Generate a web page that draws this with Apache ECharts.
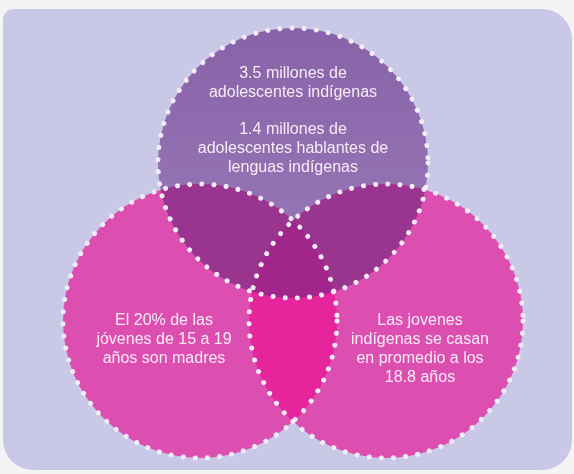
<!DOCTYPE html>
<html><head><meta charset="utf-8">
<script src="https://cdn.jsdelivr.net/npm/echarts@6/dist/echarts.min.js"></script>
<style>html,body{margin:0;padding:0;background:#f4f4f7;}#c{width:574px;height:474px;}</style>
</head><body><div id="c"></div>
<script>
// ---- data ----
const circleNames = ['Adolescentes indígenas', 'Madres jóvenes', 'Edad al casarse'];
const circleX = [293, 200, 386];
const circleY = [163, 321, 321];
const circleR = [135, 137, 137];
const overlapSets = [[0, 1], [0, 2], [1, 2], [0, 1, 2]];
const labelX = [293, 293, 164, 420];
const labelY = [83, 149, 340, 349];
const labelText = [
  '3.5 millones de\nadolescentes indígenas',
  '1.4 millones de\nadolescentes hablantes de\nlenguas indígenas',
  'El 20% de las\njóvenes de 15 a 19\naños son madres',
  'Las jovenes\nindígenas se casan\nen promedio a los\n18.8 años'
];

// ---- styles ----
const circleFill = [
  {type:'linear',x:0,y:0,x2:0,y2:1,colorStops:[{offset:0,color:'#8862a8'},{offset:1,color:'#9a7cb9'}]},
  '#dc4fb1', '#dc4fb1'
];
const overlapFill = ['#99348f', '#99348f', '#e6249b', '#a0268c'];

const chart = echarts.init(document.getElementById('c'));

function pixCircle(api, i) {
  const c = api.coord([circleX[i], circleY[i]]);
  const r = Math.abs(api.size([circleR[i], 0])[0]);
  return {cx: c[0], cy: c[1], r: r};
}
function intersectPoly(cs) {
  const pts = [];
  const N = 1440;
  cs.forEach((c, i) => {
    for (let k = 0; k < N; k++) {
      const a = k / N * Math.PI * 2;
      const x = c.cx + c.r * Math.cos(a), y = c.cy + c.r * Math.sin(a);
      let ok = true;
      cs.forEach((o, j) => {
        if (j !== i && Math.hypot(x - o.cx, y - o.cy) > o.r + 0.01) ok = false;
      });
      if (ok) pts.push([x, y]);
    }
  });
  let mx = 0, my = 0;
  pts.forEach(p => { mx += p[0]; my += p[1]; });
  mx /= pts.length; my /= pts.length;
  pts.sort((p, q) => Math.atan2(p[1] - my, p[0] - mx) - Math.atan2(q[1] - my, q[0] - mx));
  return pts;
}

const option = {
  animation: false,
  graphic: [{
    type: 'rect', z: -10,
    shape: {x: 3, y: 9, width: 569, height: 461, r: [10, 30, 30, 30]},
    style: {fill: '#c9c8e6'}
  }],
  grid: {left: 0, right: 0, top: 0, bottom: 0},
  xAxis: {type: 'value', min: 0, max: 574, show: false},
  yAxis: {type: 'value', min: 0, max: 474, inverse: true, show: false},
  series: [
    {
      type: 'custom', name: 'circles',
      data: circleNames.map((n, i) => ({name: n, value: [circleX[i], circleY[i], circleR[i]]})),
      renderItem: function (params, api) {
        const c = pixCircle(api, params.dataIndex);
        return {type: 'circle', shape: {cx: c.cx, cy: c.cy, r: c.r}, style: {fill: circleFill[params.dataIndex]}};
      },
      z: 1
    },
    {
      type: 'custom', name: 'overlaps',
      data: overlapSets.map((s, i) => [i]),
      renderItem: function (params, api) {
        const set = overlapSets[params.dataIndex];
        const cs = set.map(i => pixCircle(api, i));
        return {type: 'polygon', shape: {points: intersectPoly(cs)}, style: {fill: overlapFill[params.dataIndex]}};
      },
      z: 2
    },
    {
      type: 'custom', name: 'borders',
      data: circleNames.map((n, i) => [circleX[i], circleY[i], circleR[i]]),
      renderItem: function (params, api) {
        const c = pixCircle(api, params.dataIndex);
        return {type: 'circle', shape: {cx: c.cx, cy: c.cy, r: c.r},
          style: {fill: 'none', stroke: '#f1ecf8', lineWidth: 5, lineDash: [0.01, 12.2], lineCap: 'round'}};
      },
      z: 3
    },
    {
      type: 'custom', name: 'labels',
      data: labelText.map((t, i) => [labelX[i], labelY[i]]),
      renderItem: function (params, api) {
        const p = api.coord([api.value(0), api.value(1)]);
        return {type: 'text', x: p[0], y: p[1],
          style: {text: labelText[params.dataIndex], fill: '#f7ecf6', font: '16px "Liberation Sans", Arial, sans-serif',
            align: 'center', verticalAlign: 'middle', lineHeight: 19}};
      },
      z: 4
    }
  ]
};
chart.setOption(option);
</script></body></html>
